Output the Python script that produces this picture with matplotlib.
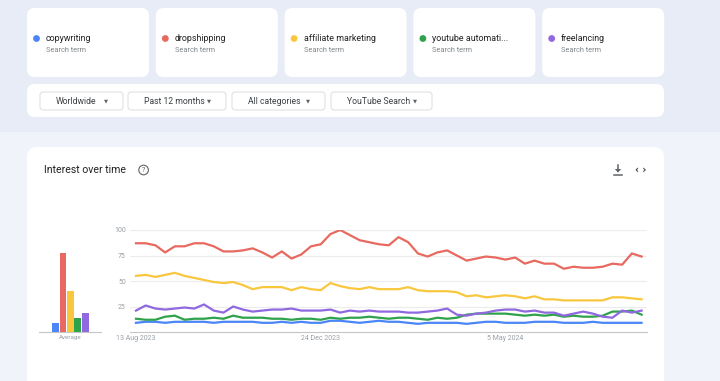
import matplotlib
matplotlib.use("Agg")
import matplotlib.pyplot as plt
from matplotlib.patches import FancyBboxPatch, Circle, Polygon
import pandas as pd

plt.rcParams["font.family"] = ["Roboto", "DejaVu Sans"]

TERMS = ["copywriting", "dropshipping", "affiliate marketing",
         "youtube automati...", "freelancing"]
COLORS = ["#4a86f7", "#e8695f", "#f8c73e", "#2fa24b", "#9068e0"]
FILTERS = ["Worldwide", "Past 12 months", "All categories", "YouTube Search"]

WEEKS = pd.date_range("2023-08-13", periods=53, freq="7D")
TICK_DATES = ["2023-08-13", "2023-12-24", "2024-05-05"]
TICK_LABELS = ["13 Aug 2023", "24 Dec 2023", "5 May 2024"]

copywriting = [9, 10, 10, 9, 10, 10, 10, 10, 9, 10,
               10, 10, 10, 9, 9, 10, 9, 10, 9, 9,
               11, 11, 10, 9, 10, 11, 10, 10, 9, 8,
               9, 9, 9, 9, 8, 9, 10, 10, 9, 9,
               9, 10, 10, 10, 9, 9, 9, 10, 9, 9,
               9, 9, 9]
dropshipping = [87, 87, 85, 78, 84, 84, 87, 87, 84, 79,
                79, 80, 82, 78, 73, 79, 72, 76, 84, 86,
                96, 100, 95, 90, 88, 86, 85, 93, 88, 77,
                74, 78, 80, 75, 70, 72, 74, 73, 71, 73,
                67, 70, 67, 67, 62, 64, 63, 63, 64, 67,
                66, 77, 74]
affiliate = [55, 56, 54, 56, 58, 55, 53, 51, 49, 48,
             49, 46, 42, 44, 44, 44, 41, 44, 42, 41,
             48, 45, 43, 42, 44, 42, 42, 42, 44, 41,
             40, 40, 40, 39, 35, 36, 34, 35, 36, 35,
             33, 35, 32, 32, 31, 31, 31, 31, 31, 34,
             34, 33, 32]
youtube_auto = [13, 12, 12, 15, 16, 12, 13, 13, 14, 13,
                16, 14, 14, 14, 13, 13, 12, 13, 13, 12,
                14, 13, 14, 14, 15, 14, 13, 14, 14, 13,
                12, 14, 13, 14, 17, 18, 18, 18, 18, 17,
                16, 17, 16, 17, 15, 16, 15, 15, 16, 20,
                20, 21, 17]
freelancing = [21, 26, 23, 22, 23, 24, 23, 27, 21, 19,
               25, 22, 20, 21, 22, 22, 23, 21, 21, 21,
               22, 19, 21, 20, 21, 20, 20, 20, 19, 19,
               20, 21, 23, 17, 16, 18, 19, 21, 22, 22,
               20, 21, 19, 19, 16, 18, 20, 18, 15, 14,
               21, 19, 21]
SERIES = [copywriting, dropshipping, affiliate, youtube_auto, freelancing]
AVERAGES = [9, 77, 40, 14, 19]

W, H = 720, 381
fig = plt.figure(figsize=(W / 100, H / 100), dpi=100)
fig.patch.set_facecolor("#e8ecf6")

# page background, cards and header texts in pixel coordinates
bg = fig.add_axes([0, 0, 1, 1])
bg.set_xlim(0, W)
bg.set_ylim(H, 0)
bg.axis("off")


def card(x0, y0, x1, y1, r=8, fc="white", ec="none", lw=0.8):
    bg.add_patch(FancyBboxPatch((x0, y0), x1 - x0, y1 - y0,
                                boxstyle=f"round,pad=0,rounding_size={r}",
                                fc=fc, ec=ec, lw=lw))


bg.add_patch(plt.Rectangle((0, 132), W, H - 132, fc="#f0f3f9", ec="none"))

for i, (term, col) in enumerate(zip(TERMS, COLORS)):
    x0 = 27 + i * 128.8
    card(x0, 8, x0 + 122, 77)
    bg.add_patch(Circle((x0 + 9.5, 38.5), 3.4, fc=col, ec="none"))
    bg.text(x0 + 19, 38.5, term, fontsize=6.4, color="#202124", va="center")
    bg.text(x0 + 19, 50.5, "Search term", fontsize=5.3, color="#80868b", va="center")

card(27, 84, 664, 117)
btn_spans = [(40, 123), (128, 226), (232, 325), (331, 432)]
for label, (bx0, bx1) in zip(FILTERS, btn_spans):
    card(bx0, 92, bx1, 110, r=3, ec="#dadce0", lw=0.7)
    bg.text(bx0 + 16, 101, label, fontsize=6.2, color="#3c4043", va="center")
    bg.text(bx1 - 17, 100.5, "▼", fontsize=3.8, color="#5f6368",
            va="center", ha="center", family="DejaVu Sans")

card(27, 147, 664, 420, r=10)
bg.text(44, 170, "Interest over time", fontsize=7.6, color="#202124", va="center")
bg.add_patch(Circle((143.6, 170), 4.8, fc="none", ec="#5f6368", lw=0.8))
bg.text(143.6, 170.3, "?", fontsize=5, color="#5f6368", ha="center", va="center")
# download icon
bg.plot([618, 618], [164.5, 171], color="#5f6368", lw=1.1)
bg.add_patch(Polygon([[614.8, 169], [621.2, 169], [618, 172.5]], fc="#5f6368", ec="none"))
bg.plot([614, 622], [175, 175], color="#5f6368", lw=1.1)
bg.text(640.5, 170, "‹ ›", fontsize=7, color="#3c4043", ha="center", va="center",
        family="DejaVu Sans", fontweight="bold")

# line chart
ax = fig.add_axes([130 / W, (H - 332) / H, (647 - 130) / W, 102 / H])
ax.set_facecolor("none")
for vals, col in zip(SERIES, COLORS):
    ax.plot(WEEKS, vals, color=col, lw=1.6, solid_joinstyle="round", zorder=3)
ax.set_ylim(0, 100)
ax.set_xlim(WEEKS[0] - pd.Timedelta(days=4.3), WEEKS[-1] + pd.Timedelta(days=3.9))
ax.set_yticks([25, 50, 75, 100])
ax.set_xticks(pd.to_datetime(TICK_DATES))
ax.set_xticklabels(TICK_LABELS)
ax.grid(axis="y", color="#ececec", lw=0.8)
ax.tick_params(axis="both", length=0, labelsize=5, labelcolor="#9aa0a6")
ax.tick_params(axis="y", pad=3)
ax.tick_params(axis="x", pad=2.5)
for s in ["top", "right", "left"]:
    ax.spines[s].set_visible(False)
ax.spines["bottom"].set_color("#c4c7c5")
ax.spines["bottom"].set_linewidth(0.8)

# average bars
bax = fig.add_axes([39 / W, (H - 332) / H, 62 / W, 102 / H])
bax.set_facecolor("none")
bax.bar(range(len(AVERAGES)), AVERAGES, width=0.92, color=COLORS, zorder=3)
bax.set_ylim(0, 100)
bax.set_xlim(-2.2, 6.08)
bax.set_yticks([])
bax.set_xticks([2])
bax.set_xticklabels(["Average"])
bax.tick_params(axis="x", length=0, labelsize=4.5, labelcolor="#9aa0a6", pad=2.5)
for s in ["top", "right", "left"]:
    bax.spines[s].set_visible(False)
bax.spines["bottom"].set_color("#c4c7c5")
bax.spines["bottom"].set_linewidth(0.8)

fig.savefig("out.png", dpi=100)
